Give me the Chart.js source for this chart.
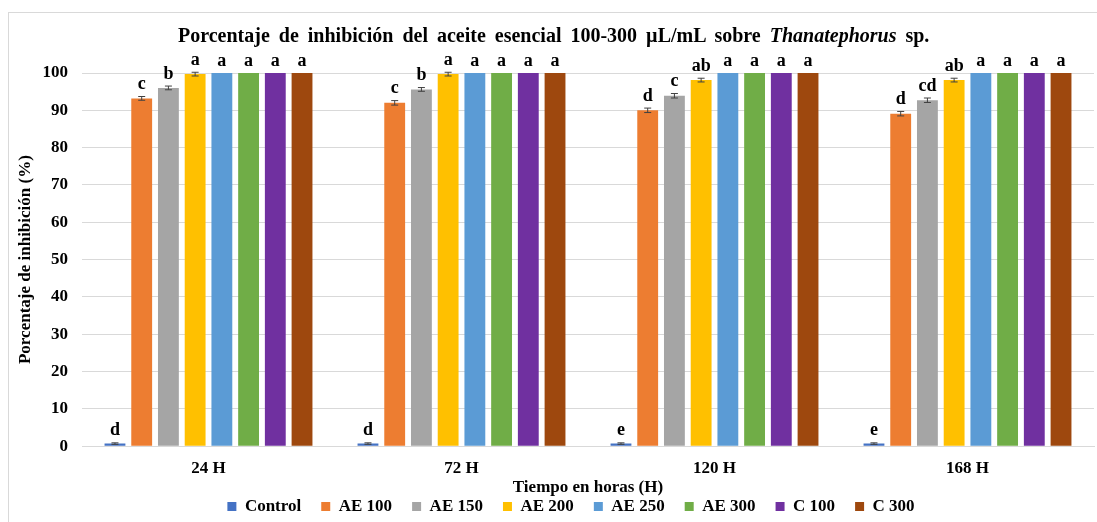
<!DOCTYPE html>
<html>
<head>
<meta charset="utf-8">
<script src="https://cdn.jsdelivr.net/npm/chart.js@4.4.1/dist/chart.umd.min.js"></script>
<style>
    body { margin: 0; background: #fff; }
    #contenedor { position: relative; width: 1097px; height: 522px; overflow: hidden; }
    #marco { position: absolute; left: 8px; top: 12px; width: 1200px; height: 700px; border: 1px solid #d9d9d9; }
    #titulo { position: absolute; left: 178px; top: 24px; font: bold 20px "Liberation Serif"; line-height: 22px; word-spacing: 4px; white-space: nowrap; color: #000; }
    canvas { position: absolute; left: 0; top: 0; }
</style>
</head>
<body>
<div id="contenedor">
    <div id="marco"></div>
    <canvas id="grafico" width="1097" height="522"></canvas>
    <div id="titulo">Porcentaje de inhibición del aceite esencial 100-300 µL/mL sobre <i>Thanatephorus</i> sp.</div>
</div>
<script>
const categorias = ["24 H", "72 H", "120 H", "168 H"];

const control = [0.7, 0.7, 0.7, 0.7];
const ae100 = [93.2, 92.0, 90.0, 89.1];
const ae150 = [96.0, 95.6, 93.9, 92.7];
const ae200 = [99.7, 99.7, 98.1, 98.1];
const ae250 = [100, 100, 100, 100];
const ae300 = [100, 100, 100, 100];
const c100 = [100, 100, 100, 100];
const c300 = [100, 100, 100, 100];

const errControl = [0.2, 0.2, 0.2, 0.2];
const errAe100 = [0.5, 0.6, 0.6, 0.6];
const errAe150 = [0.5, 0.5, 0.6, 0.6];
const errAe200 = [0.5, 0.5, 0.5, 0.5];
const errCero = [0, 0, 0, 0];

const letrasControl = ["d", "d", "e", "e"];
const letrasAe100 = ["c", "c", "d", "d"];
const letrasAe150 = ["b", "b", "c", "cd"];
const letrasAe200 = ["a", "a", "ab", "ab"];
const letrasA = ["a", "a", "a", "a"];

const FUENTE = "Liberation Serif";
const fuenteNegrita = { family: FUENTE, size: 17, weight: "bold" };

function serie(nombre, valores, color, errores, letras) {
    return {
        label: nombre,
        data: valores,
        backgroundColor: color,
        borderWidth: 0,
        errores: errores,
        letras: letras
    };
}

// barras de error y letras de significancia
const barrasError = {
    id: "barrasError",
    afterDatasetsDraw(chart) {
        const ctx = chart.ctx;
        const y = chart.scales.y;
        ctx.save();
        ctx.strokeStyle = "#404040";
        ctx.lineWidth = 1;
        ctx.fillStyle = "#000";
        ctx.font = "bold 18px " + FUENTE;
        ctx.textAlign = "center";
        ctx.textBaseline = "bottom";
        chart.data.datasets.forEach((ds, i) => {
            const meta = chart.getDatasetMeta(i);
            meta.data.forEach((barra, j) => {
                const v = ds.data[j];
                const e = ds.errores[j];
                const yArriba = y.getPixelForValue(v + e);
                const yAbajo = y.getPixelForValue(v - e);
                if (e > 0) {
                    ctx.beginPath();
                    ctx.moveTo(barra.x, yArriba);
                    ctx.lineTo(barra.x, yAbajo);
                    ctx.moveTo(barra.x - 3.5, yArriba);
                    ctx.lineTo(barra.x + 3.5, yArriba);
                    ctx.moveTo(barra.x - 3.5, yAbajo);
                    ctx.lineTo(barra.x + 3.5, yAbajo);
                    ctx.stroke();
                }
                ctx.fillText(ds.letras[j], barra.x, yArriba - 3);
            });
        });
        ctx.restore();
    }
};

// la leyenda va centrada bajo el área de trazado, no bajo todo el lienzo
const moverLeyenda = {
    id: "moverLeyenda",
    afterLayout(chart) {
        if (chart.legend) {
            chart.legend.left += 24;
            chart.legend.right += 24;
        }
    }
};

new Chart(document.getElementById("grafico").getContext("2d"), {
    type: "bar",
    data: {
        labels: categorias,
        datasets: [
            serie("Control", control, "#4472C4", errControl, letrasControl),
            serie("AE 100", ae100, "#ED7D31", errAe100, letrasAe100),
            serie("AE 150", ae150, "#A5A5A5", errAe150, letrasAe150),
            serie("AE 200", ae200, "#FFC000", errAe200, letrasAe200),
            serie("AE 250", ae250, "#5B9BD5", errCero, letrasA),
            serie("AE 300", ae300, "#70AD47", errCero, letrasA),
            serie("C 100", c100, "#7030A0", errCero, letrasA),
            serie("C 300", c300, "#9E480E", errCero, letrasA)
        ]
    },
    options: {
        responsive: false,
        animation: false,
        datasets: { bar: { categoryPercentage: 0.845, barPercentage: 0.78 } },
        layout: { padding: { top: 73, right: 3, left: 0, bottom: -3 } },
        scales: {
            x: {
                grid: { display: false, drawTicks: false },
                border: { color: "#d9d9d9" },
                ticks: { padding: 12, font: fuenteNegrita, color: "#000" },
                title: {
                    display: true,
                    text: "Tiempo en horas (H)",
                    font: fuenteNegrita,
                    color: "#000",
                    padding: { top: -13, bottom: -20 }
                }
            },
            y: {
                min: 0,
                max: 100,
                ticks: { stepSize: 10, padding: 14, font: fuenteNegrita, color: "#000" },
                grid: { color: "#d9d9d9", drawTicks: false },
                border: { display: false },
                title: {
                    display: true,
                    text: "Porcentaje de inhibición (%)",
                    font: fuenteNegrita,
                    color: "#000",
                    padding: { top: 15, bottom: 0 }
                },
                afterFit(escala) { escala.width = 82; }
            }
        },
        plugins: {
            legend: {
                position: "bottom",
                labels: { boxWidth: 9, boxHeight: 9, padding: 20, font: fuenteNegrita, color: "#000" }
            },
            tooltip: { enabled: false }
        }
    },
    plugins: [barrasError, moverLeyenda]
});
</script>
</body>
</html>
